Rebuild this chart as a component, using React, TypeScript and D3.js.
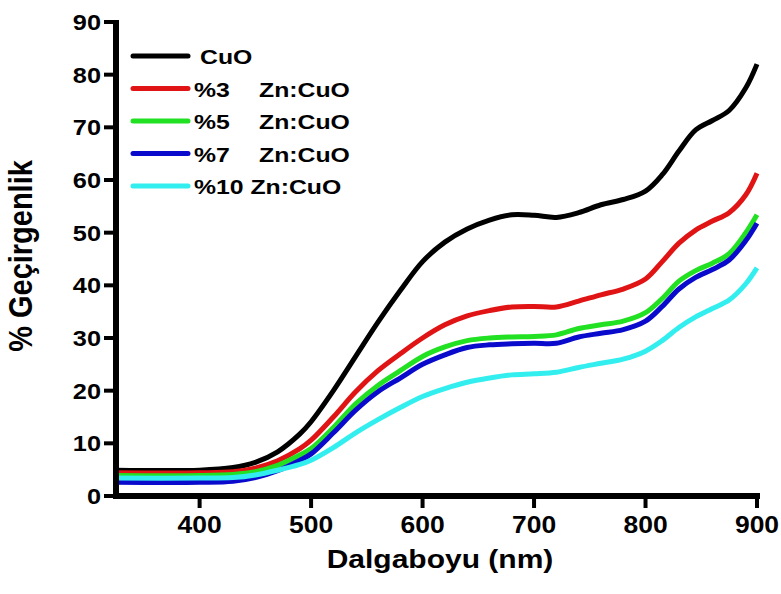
import React from "react";
import * as d3 from "d3";

const wavelengths = [325, 400, 430, 450, 470, 490, 500, 520, 540, 560, 580, 600, 620, 640, 660, 680, 700, 720, 740, 760, 780, 800, 815, 830, 845, 860, 875, 890, 900];
const cuo = [4.9, 4.9, 5.4, 6.4, 8.4, 11.8, 14.1, 20, 26.5, 33, 39, 44.5, 48.2, 50.7, 52.4, 53.4, 53.3, 52.9, 53.8, 55.3, 56.3, 57.9, 61, 65.5, 69.5, 71.3, 73.2, 77.5, 82];
const zn3 = [4.4, 4.4, 4.6, 5.3, 6.7, 9, 10.6, 15, 19.8, 23.8, 27, 30, 32.5, 34.2, 35.2, 35.9, 36, 35.9, 37, 38.2, 39.3, 41.2, 44.5, 48, 50.5, 52.2, 53.8, 57.2, 61.3];
const zn5 = [3.9, 3.9, 4.1, 4.6, 5.8, 7.8, 9, 13, 17.5, 21, 23.8, 26.5, 28.3, 29.5, 30, 30.2, 30.3, 30.6, 31.8, 32.5, 33.2, 34.8, 37.5, 40.8, 42.8, 44.2, 46, 50, 53.4];
const zn7 = [2.6, 2.6, 2.8, 3.5, 4.8, 6.8, 8, 12, 16.3, 19.8, 22.4, 25, 26.8, 28.2, 28.7, 28.9, 29, 29, 30.2, 30.9, 31.6, 33.2, 36, 39.3, 41.5, 43, 44.8, 48.5, 51.8];
const zn10 = [3.4, 3.4, 3.5, 4, 4.9, 6, 6.8, 9.2, 12, 14.5, 16.8, 18.9, 20.4, 21.6, 22.4, 23, 23.2, 23.5, 24.4, 25.2, 26, 27.5, 29.5, 32, 34, 35.6, 37.2, 40.3, 43.3];

const seriesNames = ["CuO", "%3", "%5", "%7", "%10"];
const seriesSuffix = ["", "Zn:CuO", "Zn:CuO", "Zn:CuO", "Zn:CuO"];
const seriesValues = [cuo, zn3, zn5, zn7, zn10];
const seriesColors = ["#000000", "#e01414", "#22e022", "#0a0acc", "#33eeee"];

const xTicks = [400, 500, 600, 700, 800, 900];
const yTicks = [0, 10, 20, 30, 40, 50, 60, 70, 80, 90];

const xTitle = "Dalgaboyu (nm)";
const yTitle = "% Geçirgenlik";

const FONT = "'Liberation Sans', Arial, Helvetica, sans-serif";
const SX = 1.15;

export default function App() {
  const x = d3.scaleLinear().domain([325, 900]).range([116, 757]);
  const y = d3.scaleLinear().domain([0, 90]).range([496, 22]);
  const line = d3
    .line<number>()
    .x((_, i) => x(wavelengths[i]))
    .y((d) => y(d))
    .curve(d3.curveCatmullRom.alpha(0.5));

  const legendY0 = 56;
  const legendStep = 32.5;

  return (
    <svg
      width={781}
      height={594}
      style={{ position: "absolute", left: 0, top: 0, background: "#fff" }}
      fontFamily={FONT}
      fontWeight="bold"
    >
      <rect x={0} y={0} width={781} height={594} fill="#fff" />
      {seriesValues.map((vals, i) => (
        <path
          key={i}
          d={line(vals) || ""}
          fill="none"
          stroke={seriesColors[i]}
          strokeWidth={5}
          strokeLinejoin="round"
        />
      ))}
      {/* y axis */}
      <line x1={x(325)} x2={x(325)} y1={y(90) - 2} y2={y(0) + 3} stroke="#000" strokeWidth={6} />
      {yTicks.map((t) => (
        <g key={t}>
          <line x1={104} x2={x(325)} y1={y(t)} y2={y(t)} stroke="#000" strokeWidth={4} />
          <text
            transform={`translate(101,${y(t) + 8}) scale(${SX},1)`}
            textAnchor="end"
            fontSize={22}
            fill="#000"
          >
            {t}
          </text>
        </g>
      ))}
      {/* x axis */}
      <line x1={x(325) - 3} x2={x(900) + 3} y1={y(0)} y2={y(0)} stroke="#000" strokeWidth={6} />
      {xTicks.map((t) => (
        <g key={t}>
          <line x1={x(t)} x2={x(t)} y1={y(0)} y2={y(0) + 12} stroke="#000" strokeWidth={4} />
          <text
            transform={`translate(${x(t)},533) scale(${SX},1)`}
            textAnchor="middle"
            fontSize={23}
            fill="#000"
          >
            {t}
          </text>
        </g>
      ))}
      {/* axis titles */}
      <text
        transform={`translate(440,568) scale(1.2,1)`}
        textAnchor="middle"
        fontSize={25}
        fill="#000"
      >
        {xTitle}
      </text>
      <text
        transform={`translate(32,256) rotate(-90) scale(1,1.12)`}
        textAnchor="middle"
        fontSize={29}
        fill="#000"
      >
        {yTitle}
      </text>
      {/* legend */}
      {seriesNames.map((n, i) => {
        const ly = legendY0 + i * legendStep;
        return (
          <g key={n}>
            <line x1={133} x2={188} y1={ly} y2={ly} stroke={seriesColors[i]} strokeWidth={5} strokeLinecap="round" />
            {i === 0 ? (
              <text transform={`translate(200,${ly + 8}) scale(1.18,1)`} fontSize={21} fill="#000">
                {n}
              </text>
            ) : i === 4 ? (
              <text transform={`translate(194,${ly + 8}) scale(1.18,1)`} fontSize={21} fill="#000">
                {n + " " + seriesSuffix[i]}
              </text>
            ) : (
              <g>
                <text transform={`translate(194,${ly + 8}) scale(1.18,1)`} fontSize={21} fill="#000">
                  {n}
                </text>
                <text transform={`translate(259,${ly + 8}) scale(1.18,1)`} fontSize={21} fill="#000">
                  {seriesSuffix[i]}
                </text>
              </g>
            )}
          </g>
        );
      })}
    </svg>
  );
}
